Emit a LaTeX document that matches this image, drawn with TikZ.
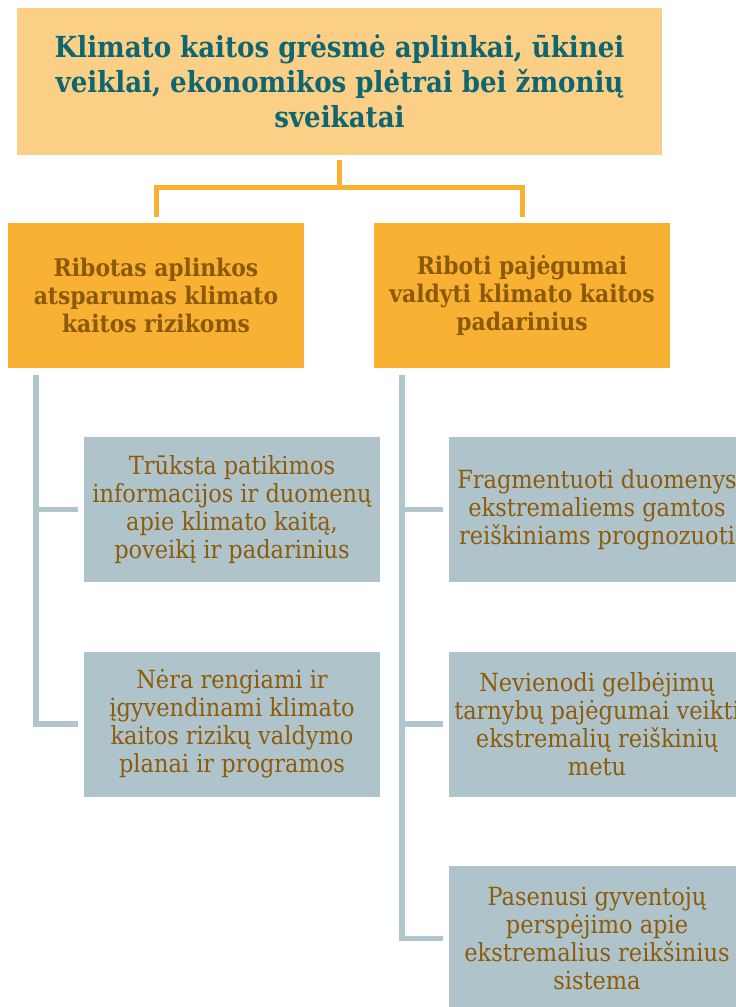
\documentclass[tikz,border=0pt]{standalone}
\usepackage{fontspec}
\setmainfont{DejaVu Serif Condensed}
\usetikzlibrary{calc}

\definecolor{topfill}{HTML}{FBCF85}
\definecolor{midfill}{HTML}{F8B133}
\definecolor{greyfill}{HTML}{AFC3CB}
\definecolor{greyrule}{HTML}{B1C5CD}
\definecolor{toptext}{HTML}{0F6670}
\definecolor{midtext}{HTML}{8A5A08}
\definecolor{greytext}{HTML}{8D5B0A}

\begin{document}
\begin{tikzpicture}[x=1pt,y=-1pt,
  topbox/.style={fill=topfill, minimum width=645pt, minimum height=147pt,
    inner sep=0pt, align=center, text=toptext,
    font=\fontsize{29}{35}\selectfont\bfseries},
  midbox/.style={fill=midfill, minimum width=296pt, minimum height=145pt,
    inner sep=0pt, align=center, text=midtext,
    font=\fontsize{24.3}{28}\selectfont\bfseries},
  greybox/.style={fill=greyfill, minimum width=296pt, minimum height=145pt,
    inner sep=0pt, align=center, text=greytext,
    font=\fontsize{25}{28}\selectfont},
  oline/.style={draw=midfill, line width=5pt, line join=miter},
  gline/.style={draw=greyrule, line width=5.5pt, line join=miter}]

\useasboundingbox (0,0) rectangle (736,1007);
\clip (0,0) rectangle (736,1007);

% headline
\node[topbox] (top) at (339.5,81.5)
  {Klimato kaitos grėsmė aplinkai, ūkinei\\
   veiklai, ekonomikos plėtrai bei žmonių\\
   sveikatai};

% two problem branches
\node[midbox] (m1) at (156,295.5)
  {Ribotas aplinkos\\atsparumas klimato\\kaitos rizikoms};
\node[midbox] (m2) at (522,295.5)
  {Riboti pajėgumai\\valdyti klimato kaitos\\padarinius};

% causes under the left branch
\node[greybox] (g1) at (232,509.5)
  {Trūksta patikimos\\informacijos ir duomenų\\apie klimato kaitą,\\poveikį ir padarinius};
\node[greybox] (g2) at (232,724)
  {Nėra rengiami ir\\įgyvendinami klimato\\kaitos rizikų valdymo\\planai ir programos};

% causes under the right branch
\node[greybox] (g3) at (597,509.5)
  {Fragmentuoti duomenys\\ekstremaliems gamtos\\reiškiniams prognozuoti};
\node[greybox] (g4) at (597,724)
  {Nevienodi gelbėjimų\\tarnybų pajėgumai veikti\\ekstremalių reiškinių\\metu};
\node[greybox] (g5) at (597,938.5)
  {Pasenusi gyventojų\\perspėjimo apie\\ekstremalius reikšinius\\sistema};

% orange bracket from the headline to both branches
\coordinate (junc) at ($(top.south)+(0,32)$);
\draw[oline] ([yshift=-5pt]top.south) -- (junc);
\draw[oline] ([yshift=6pt]m1.north) |- (junc) -| ([yshift=6pt]m2.north);

% grey trunks with their side branches
\coordinate (t1) at ([xshift=28pt,yshift=-7pt]m1.south west);
\coordinate (t2) at ([xshift=28pt,yshift=-7pt]m2.south west);
\draw[gline] (t1) |- ([xshift=-6pt]g2.west);
\draw[gline] (t1 |- g1.west) -- ([xshift=-6pt]g1.west);
\draw[gline] (t2) |- ([xshift=-6pt]g5.west);
\draw[gline] (t2 |- g3.west) -- ([xshift=-6pt]g3.west);
\draw[gline] (t2 |- g4.west) -- ([xshift=-6pt]g4.west);
\end{tikzpicture}
\end{document}
